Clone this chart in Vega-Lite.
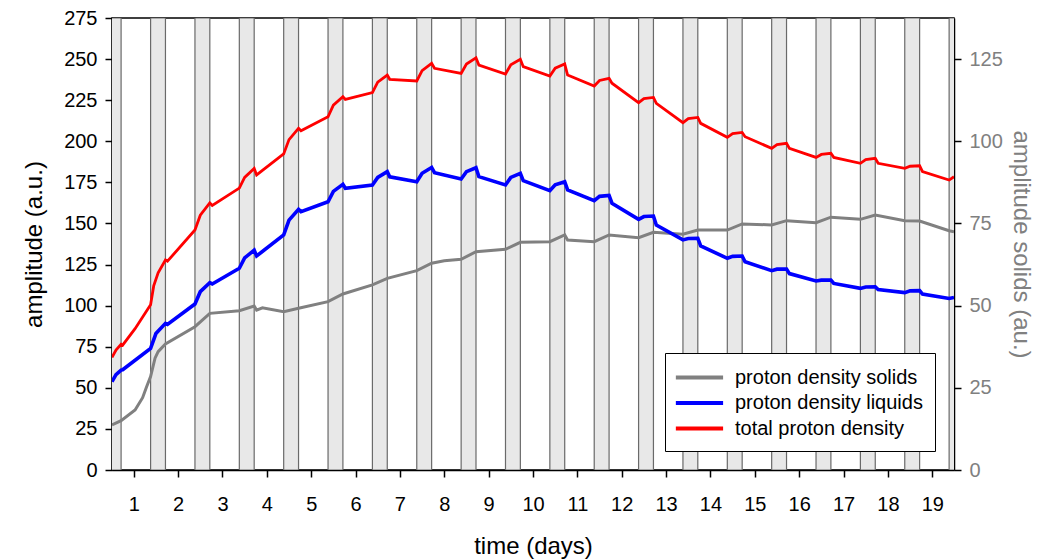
{
  "$schema": "https://vega.github.io/schema/vega-lite/v6.json",
  "width": 842,
  "height": 452,
  "autosize": {"type": "none"},
  "padding": {"left": 112, "top": 18, "right": 91, "bottom": 90},
  "config": {
    "font": "Liberation Sans",
    "view": {"stroke": "black", "strokeWidth": 1.5},
    "axis": {"grid": false, "domainColor": "black", "tickColor": "black", "labelColor": "black", "titleColor": "black", "titleFontWeight": "normal", "labelFont": "Liberation Sans", "titleFont": "Liberation Sans", "domainWidth": 1.5, "tickWidth": 1.5}
  },
  "datasets": {
    "bands": [
      {"start": 0.38, "end": 0.715}, {"start": 1.38, "end": 1.715}, {"start": 2.38, "end": 2.715}, {"start": 3.38, "end": 3.715},
      {"start": 4.38, "end": 4.715}, {"start": 5.38, "end": 5.715}, {"start": 6.38, "end": 6.715}, {"start": 7.38, "end": 7.715},
      {"start": 8.38, "end": 8.715}, {"start": 9.38, "end": 9.715}, {"start": 10.38, "end": 10.715}, {"start": 11.38, "end": 11.715},
      {"start": 12.38, "end": 12.715}, {"start": 13.38, "end": 13.715}, {"start": 14.38, "end": 14.715}, {"start": 15.38, "end": 15.715},
      {"start": 16.38, "end": 16.715}, {"start": 17.38, "end": 17.715}, {"start": 18.38, "end": 18.715}, {"start": 19.38, "end": 19.715}
    ],
    "solids": [
      {"t": 0.51, "v": 13.7, "series": "proton density solids"}, {"t": 0.715, "v": 15, "series": "proton density solids"},
      {"t": 1.03, "v": 18.25, "series": "proton density solids"}, {"t": 1.2, "v": 22, "series": "proton density solids"},
      {"t": 1.29, "v": 25.35, "series": "proton density solids"}, {"t": 1.38, "v": 28.4, "series": "proton density solids"},
      {"t": 1.48, "v": 34, "series": "proton density solids"}, {"t": 1.55, "v": 36, "series": "proton density solids"},
      {"t": 1.715, "v": 38.35, "series": "proton density solids"}, {"t": 2.38, "v": 43.6, "series": "proton density solids"},
      {"t": 2.715, "v": 47.65, "series": "proton density solids"}, {"t": 3.38, "v": 48.45, "series": "proton density solids"},
      {"t": 3.715, "v": 49.9, "series": "proton density solids"}, {"t": 3.77, "v": 48.65, "series": "proton density solids"},
      {"t": 3.9, "v": 49.35, "series": "proton density solids"}, {"t": 4.38, "v": 48.15, "series": "proton density solids"},
      {"t": 4.715, "v": 49.2, "series": "proton density solids"}, {"t": 5.38, "v": 51.2, "series": "proton density solids"},
      {"t": 5.715, "v": 53.55, "series": "proton density solids"}, {"t": 6.38, "v": 56.3, "series": "proton density solids"},
      {"t": 6.715, "v": 58.3, "series": "proton density solids"}, {"t": 7.38, "v": 60.65, "series": "proton density solids"},
      {"t": 7.715, "v": 62.9, "series": "proton density solids"}, {"t": 8.0, "v": 63.65, "series": "proton density solids"},
      {"t": 8.38, "v": 64.1, "series": "proton density solids"}, {"t": 8.715, "v": 66.4, "series": "proton density solids"},
      {"t": 9.38, "v": 67.15, "series": "proton density solids"}, {"t": 9.715, "v": 69.25, "series": "proton density solids"},
      {"t": 10.38, "v": 69.45, "series": "proton density solids"}, {"t": 10.715, "v": 71.5, "series": "proton density solids"},
      {"t": 10.78, "v": 69.95, "series": "proton density solids"}, {"t": 11.38, "v": 69.45, "series": "proton density solids"},
      {"t": 11.715, "v": 71.5, "series": "proton density solids"}, {"t": 12.38, "v": 70.65, "series": "proton density solids"},
      {"t": 12.715, "v": 72.3, "series": "proton density solids"}, {"t": 13.38, "v": 71.7, "series": "proton density solids"},
      {"t": 13.715, "v": 73, "series": "proton density solids"}, {"t": 14.38, "v": 73, "series": "proton density solids"},
      {"t": 14.715, "v": 74.85, "series": "proton density solids"}, {"t": 15.38, "v": 74.55, "series": "proton density solids"},
      {"t": 15.715, "v": 75.85, "series": "proton density solids"}, {"t": 16.38, "v": 75.25, "series": "proton density solids"},
      {"t": 16.715, "v": 76.9, "series": "proton density solids"}, {"t": 17.38, "v": 76.25, "series": "proton density solids"},
      {"t": 17.715, "v": 77.55, "series": "proton density solids"}, {"t": 18.38, "v": 75.85, "series": "proton density solids"},
      {"t": 18.715, "v": 75.75, "series": "proton density solids"}, {"t": 19.38, "v": 72.8, "series": "proton density solids"},
      {"t": 19.49, "v": 72.5, "series": "proton density solids"}
    ],
    "liquids": [
      {"t": 0.51, "v": 53.7, "series": "proton density liquids"}, {"t": 0.6, "v": 58, "series": "proton density liquids"},
      {"t": 0.715, "v": 60.8, "series": "proton density liquids"}, {"t": 0.75, "v": 61, "series": "proton density liquids"},
      {"t": 1.38, "v": 74, "series": "proton density liquids"}, {"t": 1.5, "v": 83, "series": "proton density liquids"},
      {"t": 1.715, "v": 89.2, "series": "proton density liquids"}, {"t": 1.76, "v": 88.6, "series": "proton density liquids"},
      {"t": 2.38, "v": 101, "series": "proton density liquids"}, {"t": 2.5, "v": 108.5, "series": "proton density liquids"},
      {"t": 2.715, "v": 114, "series": "proton density liquids"}, {"t": 2.77, "v": 113.2, "series": "proton density liquids"},
      {"t": 3.38, "v": 122.7, "series": "proton density liquids"}, {"t": 3.5, "v": 129, "series": "proton density liquids"},
      {"t": 3.715, "v": 133.8, "series": "proton density liquids"}, {"t": 3.77, "v": 130.2, "series": "proton density liquids"},
      {"t": 4.38, "v": 143, "series": "proton density liquids"}, {"t": 4.5, "v": 152, "series": "proton density liquids"},
      {"t": 4.715, "v": 158.6, "series": "proton density liquids"}, {"t": 4.77, "v": 157.2, "series": "proton density liquids"},
      {"t": 5.38, "v": 163.2, "series": "proton density liquids"}, {"t": 5.5, "v": 169.5, "series": "proton density liquids"},
      {"t": 5.715, "v": 173.8, "series": "proton density liquids"}, {"t": 5.77, "v": 171.4, "series": "proton density liquids"},
      {"t": 6.38, "v": 173.4, "series": "proton density liquids"}, {"t": 6.5, "v": 178, "series": "proton density liquids"},
      {"t": 6.715, "v": 181.5, "series": "proton density liquids"}, {"t": 6.77, "v": 178.4, "series": "proton density liquids"},
      {"t": 7.38, "v": 175.4, "series": "proton density liquids"}, {"t": 7.5, "v": 180.5, "series": "proton density liquids"},
      {"t": 7.715, "v": 184.1, "series": "proton density liquids"}, {"t": 7.78, "v": 180.9, "series": "proton density liquids"},
      {"t": 8.38, "v": 177, "series": "proton density liquids"}, {"t": 8.5, "v": 181.5, "series": "proton density liquids"},
      {"t": 8.715, "v": 183.9, "series": "proton density liquids"}, {"t": 8.78, "v": 178.5, "series": "proton density liquids"},
      {"t": 9.38, "v": 173.4, "series": "proton density liquids"}, {"t": 9.5, "v": 178, "series": "proton density liquids"},
      {"t": 9.715, "v": 180.5, "series": "proton density liquids"}, {"t": 9.78, "v": 176, "series": "proton density liquids"},
      {"t": 10.38, "v": 169.9, "series": "proton density liquids"}, {"t": 10.5, "v": 173.5, "series": "proton density liquids"},
      {"t": 10.715, "v": 175.4, "series": "proton density liquids"}, {"t": 10.78, "v": 170.4, "series": "proton density liquids"},
      {"t": 11.38, "v": 163.9, "series": "proton density liquids"}, {"t": 11.5, "v": 166.5, "series": "proton density liquids"},
      {"t": 11.715, "v": 167.1, "series": "proton density liquids"}, {"t": 11.78, "v": 162.3, "series": "proton density liquids"},
      {"t": 12.38, "v": 152.5, "series": "proton density liquids"}, {"t": 12.5, "v": 154.2, "series": "proton density liquids"},
      {"t": 12.715, "v": 154.5, "series": "proton density liquids"}, {"t": 12.78, "v": 149, "series": "proton density liquids"},
      {"t": 13.38, "v": 140, "series": "proton density liquids"}, {"t": 13.5, "v": 140.8, "series": "proton density liquids"},
      {"t": 13.715, "v": 141, "series": "proton density liquids"}, {"t": 13.78, "v": 136.3, "series": "proton density liquids"},
      {"t": 14.38, "v": 128.8, "series": "proton density liquids"}, {"t": 14.5, "v": 130, "series": "proton density liquids"},
      {"t": 14.715, "v": 130.2, "series": "proton density liquids"}, {"t": 14.78, "v": 126.7, "series": "proton density liquids"},
      {"t": 15.38, "v": 121.3, "series": "proton density liquids"}, {"t": 15.5, "v": 122.2, "series": "proton density liquids"},
      {"t": 15.715, "v": 122.3, "series": "proton density liquids"}, {"t": 15.78, "v": 119.5, "series": "proton density liquids"},
      {"t": 16.38, "v": 115, "series": "proton density liquids"}, {"t": 16.5, "v": 115.5, "series": "proton density liquids"},
      {"t": 16.715, "v": 115.6, "series": "proton density liquids"}, {"t": 16.78, "v": 113.5, "series": "proton density liquids"},
      {"t": 17.38, "v": 110.5, "series": "proton density liquids"}, {"t": 17.5, "v": 111.3, "series": "proton density liquids"},
      {"t": 17.715, "v": 111.5, "series": "proton density liquids"}, {"t": 17.78, "v": 109.8, "series": "proton density liquids"},
      {"t": 18.38, "v": 107.9, "series": "proton density liquids"}, {"t": 18.5, "v": 109, "series": "proton density liquids"},
      {"t": 18.715, "v": 109.1, "series": "proton density liquids"}, {"t": 18.78, "v": 107, "series": "proton density liquids"},
      {"t": 19.38, "v": 104.4, "series": "proton density liquids"}, {"t": 19.49, "v": 105, "series": "proton density liquids"}
    ],
    "total": [
      {"t": 0.51, "v": 68.5, "series": "total proton density"}, {"t": 0.6, "v": 73, "series": "total proton density"},
      {"t": 0.715, "v": 76.5, "series": "total proton density"}, {"t": 0.75, "v": 76, "series": "total proton density"},
      {"t": 1.03, "v": 86, "series": "total proton density"}, {"t": 1.38, "v": 100.5, "series": "total proton density"},
      {"t": 1.45, "v": 112, "series": "total proton density"}, {"t": 1.55, "v": 120, "series": "total proton density"},
      {"t": 1.715, "v": 127.8, "series": "total proton density"}, {"t": 1.76, "v": 127, "series": "total proton density"},
      {"t": 2.38, "v": 146, "series": "total proton density"}, {"t": 2.5, "v": 155, "series": "total proton density"},
      {"t": 2.715, "v": 162.5, "series": "total proton density"}, {"t": 2.77, "v": 161, "series": "total proton density"},
      {"t": 3.38, "v": 171.5, "series": "total proton density"}, {"t": 3.5, "v": 178, "series": "total proton density"},
      {"t": 3.715, "v": 183.5, "series": "total proton density"}, {"t": 3.77, "v": 179.5, "series": "total proton density"},
      {"t": 4.38, "v": 192.3, "series": "total proton density"}, {"t": 4.5, "v": 201, "series": "total proton density"},
      {"t": 4.715, "v": 207.9, "series": "total proton density"}, {"t": 4.77, "v": 206.4, "series": "total proton density"},
      {"t": 5.38, "v": 214.9, "series": "total proton density"}, {"t": 5.5, "v": 222, "series": "total proton density"},
      {"t": 5.715, "v": 227.1, "series": "total proton density"}, {"t": 5.77, "v": 225.5, "series": "total proton density"},
      {"t": 6.38, "v": 229.6, "series": "total proton density"}, {"t": 6.5, "v": 236, "series": "total proton density"},
      {"t": 6.715, "v": 240.3, "series": "total proton density"}, {"t": 6.77, "v": 237.7, "series": "total proton density"},
      {"t": 7.38, "v": 236.7, "series": "total proton density"}, {"t": 7.5, "v": 243, "series": "total proton density"},
      {"t": 7.715, "v": 247.4, "series": "total proton density"}, {"t": 7.78, "v": 244.4, "series": "total proton density"},
      {"t": 8.38, "v": 241.3, "series": "total proton density"}, {"t": 8.5, "v": 247, "series": "total proton density"},
      {"t": 8.715, "v": 250.8, "series": "total proton density"}, {"t": 8.78, "v": 246.4, "series": "total proton density"},
      {"t": 9.38, "v": 240.9, "series": "total proton density"}, {"t": 9.5, "v": 246.5, "series": "total proton density"},
      {"t": 9.715, "v": 249.9, "series": "total proton density"}, {"t": 9.78, "v": 245.4, "series": "total proton density"},
      {"t": 10.38, "v": 239.7, "series": "total proton density"}, {"t": 10.5, "v": 244.5, "series": "total proton density"},
      {"t": 10.715, "v": 247, "series": "total proton density"}, {"t": 10.78, "v": 240.3, "series": "total proton density"},
      {"t": 11.38, "v": 233.6, "series": "total proton density"}, {"t": 11.5, "v": 237, "series": "total proton density"},
      {"t": 11.715, "v": 238.3, "series": "total proton density"}, {"t": 11.78, "v": 235.3, "series": "total proton density"},
      {"t": 12.38, "v": 223.5, "series": "total proton density"}, {"t": 12.5, "v": 226, "series": "total proton density"},
      {"t": 12.715, "v": 226.7, "series": "total proton density"}, {"t": 12.78, "v": 223.1, "series": "total proton density"},
      {"t": 13.38, "v": 211.3, "series": "total proton density"}, {"t": 13.5, "v": 213.8, "series": "total proton density"},
      {"t": 13.715, "v": 214.5, "series": "total proton density"}, {"t": 13.78, "v": 210.9, "series": "total proton density"},
      {"t": 14.38, "v": 202.4, "series": "total proton density"}, {"t": 14.5, "v": 204.6, "series": "total proton density"},
      {"t": 14.715, "v": 205.4, "series": "total proton density"}, {"t": 14.78, "v": 202.8, "series": "total proton density"},
      {"t": 15.38, "v": 195.7, "series": "total proton density"}, {"t": 15.5, "v": 198, "series": "total proton density"},
      {"t": 15.715, "v": 198.8, "series": "total proton density"}, {"t": 15.78, "v": 195.7, "series": "total proton density"},
      {"t": 16.38, "v": 190.2, "series": "total proton density"}, {"t": 16.5, "v": 192, "series": "total proton density"},
      {"t": 16.715, "v": 192.7, "series": "total proton density"}, {"t": 16.78, "v": 190.2, "series": "total proton density"},
      {"t": 17.38, "v": 186.6, "series": "total proton density"}, {"t": 17.5, "v": 188.8, "series": "total proton density"},
      {"t": 17.715, "v": 189.6, "series": "total proton density"}, {"t": 17.78, "v": 186.6, "series": "total proton density"},
      {"t": 18.38, "v": 183.5, "series": "total proton density"}, {"t": 18.5, "v": 184.8, "series": "total proton density"},
      {"t": 18.715, "v": 185.1, "series": "total proton density"}, {"t": 18.78, "v": 181.5, "series": "total proton density"},
      {"t": 19.38, "v": 176.4, "series": "total proton density"}, {"t": 19.49, "v": 178.4, "series": "total proton density"}
    ]
  },
  "layer": [
    {
      "data": {"name": "bands"},
      "mark": {"type": "rect", "fill": "#e8e8e8", "stroke": "#6a6a6a", "strokeWidth": 1.2, "clip": true},
      "encoding": {
        "x": {"field": "start", "type": "quantitative", "scale": {"domain": [0.51, 19.49], "nice": false, "zero": false},
          "axis": {"values": [1,2,3,4,5,6,7,8,9,10,11,12,13,14,15,16,17,18,19], "title": "time (days)", "tickSize": 7, "labelFontSize": 20, "labelPadding": 17, "titleFontSize": 24, "titlePadding": 20, "labelFlush": false}},
        "x2": {"field": "end"}
      }
    },
    {
      "data": {"name": "solids"},
      "mark": {"type": "line", "strokeWidth": 3, "clip": true},
      "encoding": {
        "x": {"field": "t", "type": "quantitative"},
        "y": {"field": "v", "type": "quantitative", "scale": {"domain": [0, 137.5], "nice": false},
          "axis": {"orient": "right", "values": [0, 25, 50, 75, 100, 125], "title": "amplitude solids (au.)", "labelColor": "#808080", "titleColor": "#808080", "tickSize": 7, "labelFontSize": 20, "labelPadding": 8, "titleFontSize": 24, "titlePadding": 6}},
        "color": {"field": "series", "type": "nominal",
          "scale": {"domain": ["proton density solids", "proton density liquids", "total proton density"], "range": ["#808080", "#0000ff", "#ff0000"]},
          "legend": {"orient": "none", "legendX": 553, "legendY": 335, "title": null, "strokeColor": "black", "fillColor": "white", "padding": 12, "symbolType": "M-1.3,0L3.2,0", "symbolSize": 441, "symbolStrokeWidth": 4, "labelFontSize": 20, "labelOffset": 33, "labelLimit": 0, "rowPadding": 2.5}}
      }
    },
    {
      "data": {"name": "liquids"},
      "mark": {"type": "line", "strokeWidth": 3.6, "clip": true},
      "encoding": {
        "x": {"field": "t", "type": "quantitative"},
        "y": {"field": "v", "type": "quantitative", "scale": {"domain": [0, 275], "nice": false},
          "axis": {"orient": "left", "values": [0, 25, 50, 75, 100, 125, 150, 175, 200, 225, 250, 275], "title": "amplitude (a.u.)", "tickSize": 7, "labelFontSize": 20, "labelPadding": 8, "titleFontSize": 24, "titlePadding": 17}},
        "color": {"field": "series", "type": "nominal"}
      }
    },
    {
      "data": {"name": "total"},
      "mark": {"type": "line", "strokeWidth": 2.8, "clip": true},
      "encoding": {
        "x": {"field": "t", "type": "quantitative"},
        "y": {"field": "v", "type": "quantitative", "scale": {"domain": [0, 275], "nice": false}, "axis": null},
        "color": {"field": "series", "type": "nominal"}
      }
    }
  ],
  "resolve": {"scale": {"y": "independent"}}
}
